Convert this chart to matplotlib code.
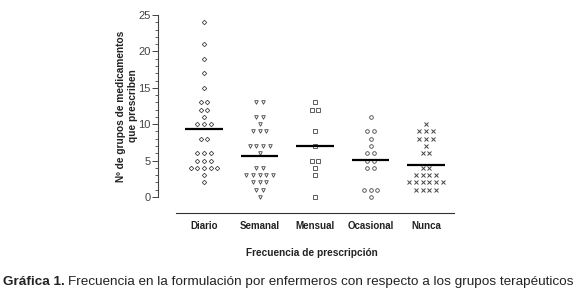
import numpy as np
import matplotlib
matplotlib.use('Agg')
import matplotlib.pyplot as plt
from matplotlib.ticker import MultipleLocator

plt.rcParams['font.family'] = ['Liberation Sans', 'DejaVu Sans']

categories = ['Diario', 'Semanal', 'Mensual', 'Ocasional', 'Nunca']

# puntos (n de grupos de medicamentos por enfermero)
diario = [24, 21, 19, 17, 15, 13, 13, 12, 12, 11, 10, 10, 10, 8, 8,
          6, 6, 6, 5, 5, 5, 4, 4, 4, 4, 4, 3, 2]
semanal = [13, 13, 11, 11, 10, 9, 9, 9, 7, 7, 7, 7, 6, 4, 4,
           3, 3, 3, 3, 3, 2, 2, 2, 1, 1, 0]
mensual = [13, 12, 12, 9, 7, 5, 5, 4, 3, 0]
ocasional = [11, 9, 9, 8, 7, 6, 6, 5, 5, 4, 4, 1, 1, 1, 0]
nunca = [10, 9, 9, 9, 8, 8, 8, 7, 6, 6, 4, 4, 3, 3, 3, 3,
         2, 2, 2, 2, 2, 2, 1, 1, 1, 1]
means = [9.4, 5.7, 7.0, 5.1, 4.4]

groups = [diario, semanal, mensual, ocasional, nunca]
markers = ['D', 'v', 's', 'o', 'x']

fig = plt.figure(figsize=(5.79, 3.03), dpi=100)
ax = fig.add_axes([0.273, 0.3498, 0.53, 0.6007])

step = 0.12  # separacion horizontal entre puntos repetidos
for i, (vals, m) in enumerate(zip(groups, markers)):
    vals = np.array(vals)
    xs, ys = [], []
    for v in np.unique(vals):
        n = np.sum(vals == v)
        off = (np.arange(n) - (n - 1) / 2) * step
        xs.extend(i + off)
        ys.extend([v] * n)
    if m == 'x':
        ax.plot(xs, ys, ls='none', marker=m, ms=2.8, mew=0.7, color='#444444', clip_on=False)
    else:
        ax.plot(xs, ys, ls='none', marker=m, ms=2.6 if m != 'D' else 2.3, mew=0.6,
                mfc='white', mec='#444444', clip_on=False)
    ax.plot([i - 0.34, i + 0.34], [means[i], means[i]], color='black', lw=1.6,
            solid_capstyle='butt', zorder=5)

ax.set_xlim(-0.83, 4.7)
ax.set_ylim(0, 25)

for s in ['top', 'right']:
    ax.spines[s].set_visible(False)
ax.spines['left'].set_bounds(0, 25)
ax.spines['left'].set_linewidth(0.8)
ax.spines['left'].set_color('#444444')
ax.spines['bottom'].set_position(('outward', 11.5))
ax.spines['bottom'].set_bounds(-0.5, 4.5)
ax.spines['bottom'].set_linewidth(0.8)
ax.spines['bottom'].set_color('#333333')

ax.yaxis.set_major_locator(MultipleLocator(5))
ax.yaxis.set_minor_locator(MultipleLocator(1))
ax.tick_params(axis='y', which='major', length=4, width=0.7, color='#444444',
               labelsize=8, labelcolor='#444444', pad=1.5)
ax.tick_params(axis='y', which='minor', length=2, width=0.6, color='#444444')

ax.set_xticks(range(len(categories)))
ax.set_xticklabels(categories, fontsize=7, fontweight='bold', color='#222222')
ax.tick_params(axis='x', length=0, pad=6)

ax.set_ylabel('Nº de grupos de medicamentos\nque prescriben', fontsize=7.3,
              fontweight='bold', color='#222222', labelpad=0, linespacing=1.25)
ax.set_xlabel('Frecuencia de prescripción', fontsize=7.3, fontweight='bold',
              color='#222222', labelpad=12)

# pie de figura
t1 = fig.text(0.006, 0.069, 'Gráfica 1.', fontsize=9.7, fontweight='bold',
              color='#222222', va='center')
fig.canvas.draw()
bb = t1.get_window_extent(fig.canvas.get_renderer())
fig.text(bb.x1 / fig.bbox.width + 0.004, 0.069,
         'Frecuencia en la formulación por enfermeros con respecto a los grupos terapéuticos',
         fontsize=9.7, color='#222222', va='center')

fig.savefig('out.png', dpi=100)
